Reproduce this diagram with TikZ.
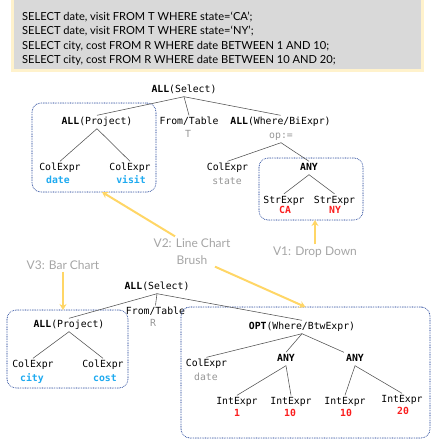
\documentclass[tikz,border=0pt]{standalone}
\usepackage{fontspec}
\setmainfont{Lato}
\setmonofont{DejaVu Sans Mono}
\usetikzlibrary{positioning,calc,arrows,arrows.meta}

\definecolor{valblue}{RGB}{30,170,240}
\definecolor{valred}{RGB}{250,30,30}
\definecolor{dimgray}{RGB}{150,150,150}
\definecolor{viewgray}{RGB}{165,165,165}
\definecolor{boxblue}{RGB}{60,90,165}
\definecolor{hintyellow}{RGB}{255,214,102}
\definecolor{sqlgray}{RGB}{217,217,217}
\definecolor{sqlyellow}{RGB}{255,242,204}
\definecolor{edgegray}{RGB}{80,80,80}

\newcommand{\kw}[1]{\textbf{#1}}
\tikzset{font=\ttfamily\fontsize{9.8}{12}\selectfont}
\tikzset{
	grp/.style={draw=boxblue, line width=1.1pt, line cap=round, dash pattern=on 0pt off 1.7pt, rounded corners=9pt, inner sep=0pt, outer sep=0pt},
	edge/.style={draw=edgegray, line width=0.55pt},
	hint/.style={draw=hintyellow, line width=2pt, -{Stealth[length=6pt, width=7pt]}},
	query/.style={font=\rmfamily\fontsize{11.1}{12}\selectfont, anchor=base west, inner sep=0pt},
	view/.style={font=\rmfamily\fontsize{12}{17}\selectfont, text=viewgray, align=center, inner sep=2pt}
}

\begin{document}
\begin{tikzpicture}[x=1pt, y=-1pt]
	\useasboundingbox (0,0) rectangle (432,440);

	% queries
	\draw [line width=3pt, draw=sqlyellow, fill=sqlgray] (12.5,-5) rectangle (422.5,70.5);
	\node[query] (q1) at (22,20) {SELECT date, visit FROM T WHERE state=`CA';};
	\node[query] (q2) at (22,34.5) {SELECT date, visit FROM T WHERE state=`NY';};
	\node[query] (q3) at (22,49) {SELECT city, cost FROM R WHERE date BETWEEN 1 AND 10;};
	\node[query] (q4) at (22,63.5) {SELECT city, cost FROM R WHERE date BETWEEN 10 AND 20;};

	\begin{scope}
		\tikzstyle{every node}=[align=center, inner sep=2pt, text height=7pt, text depth=2pt]
		\tikzstyle{colval}=[font=\ttfamily\bfseries\fontsize{9.8}{12}\selectfont, text=valblue]
		\tikzstyle{numval}=[font=\ttfamily\bfseries\fontsize{9.8}{12}\selectfont, text=valred]
		\tikzstyle{dim}=[text=dimgray]

		% first tree
		\node (sel1) at (184,90) {\kw{ALL}(Select)};
		\node (proj1) at (97,122) {\kw{ALL}(Project)};
		\node (from1) at (189,122) {From/Table};
		\node[dim] (tbl1) at (188,135) {T};
		\node (where1) at (280.5,122) {\kw{ALL}(Where/BiExpr)};
		\node[dim] (op1) at (281,136) {op:=};

		\node (cdate) at (60,168) {ColExpr};
		\node[colval] (vdate) at (58,181) {date};
		\node (cvisit) at (130,168) {ColExpr};
		\node[colval] (vvisit) at (131,181) {visit};
		\node (cstate) at (227.5,168) {ColExpr};
		\node[dim] (vstate) at (227,182) {state};

		\node (any1) at (309,168) {\kw{ANY}};
		\node (sca) at (284,200.5) {StrExpr};
		\node[numval] (vca) at (285,211) {CA};
		\node (sny) at (334.5,200.5) {StrExpr};
		\node[numval] (vny) at (335,211) {NY};

		\node[grp, minimum width=124pt, minimum height=89pt] (projbox1) at (94,147.5) {};
		\node[grp, minimum width=104pt, minimum height=62pt] (anybox) at (311,189) {};

		\draw [edge] (sel1.south) to (proj1.north);
		\draw [edge] (sel1.south) to (from1.north);
		\draw [edge] (sel1.south) to (where1.north);
		\draw [edge] (proj1.south) to (cdate.north);
		\draw [edge] (proj1.south) to (cvisit.north);
		\draw [edge] (op1.south) to (cstate.north);
		\draw [edge] (op1.south) to (any1.north);
		\draw [edge] (any1.south) to (sca.north);
		\draw [edge] (any1.south) to (sny.north);

		% second tree
		\node (sel2) at (157,287) {\kw{ALL}(Select)};
		\node (from2) at (155.5,312) {From/Table};
		\node[dim] (tbl2) at (153,324) {R};
		\node (proj2) at (69,325) {\kw{ALL}(Project)};
		\node (ccity) at (33,365) {ColExpr};
		\node[colval] (vcity) at (32,379) {city};
		\node (ccost) at (103,365) {ColExpr};
		\node[colval] (vcost) at (105,379) {cost};

		\node (opt2) at (302,327) {\kw{OPT}(Where/BtwExpr)};
		\node (cdate2) at (206.5,364) {ColExpr};
		\node[dim] (vdate2) at (206,378) {date};
		\node (anya) at (286,359) {\kw{ANY}};
		\node (anyb) at (355,359) {\kw{ANY}};
		\node (int1) at (237,402) {IntExpr};
		\node[numval] (vint1) at (237,414) {1};
		\node (int2) at (291,402) {IntExpr};
		\node[numval] (vint2) at (290,414) {10};
		\node (int3) at (345,402) {IntExpr};
		\node[numval] (vint3) at (346,414) {10};
		\node (int4) at (402,400) {IntExpr};
		\node[numval] (vint4) at (403,412) {20};

		\node[grp, minimum width=121pt, minimum height=78pt] (bprojbox) at (67.5,349) {};
		\node[grp, minimum width=249pt, minimum height=131pt] (optbox) at (305.5,372.5) {};

		\draw [edge] (sel2.south) to (proj2.north);
		\draw [edge] (sel2.south) to (from2.north);
		\draw [edge] (sel2.south) to (opt2.north);
		\draw [edge] (proj2.south) to (ccity.north);
		\draw [edge] (proj2.south) to (ccost.north);
		\draw [edge] (opt2.south) to (cdate2.north);
		\draw [edge] (opt2.south) to (anya.north);
		\draw [edge] (opt2.south) to (anyb.north west);
		\draw [edge] (anya.south) to (int1.north);
		\draw [edge] (anya.south) to (int2.north);
		\draw [edge] (anyb.south) to (int3.north);
		\draw [edge] (anyb.south) to (int4.north);
	\end{scope}

	% views
	\node[view] (v1) at (315,252) {V1: Drop Down};
	\node[view] (v2) at (192,251.5) {V2: Line Chart\\Brush};
	\node[view] (v3) at (63,265) {V3: Bar Chart};

	\draw [hint] (v1.north) to (v1.north |- anybox.south);
	\draw [hint] ([xshift=-17pt]v2.north) to ([xshift=8pt]projbox1.south);
	\draw [hint] ([xshift=23pt]v2.south) to (optbox.north);
	\draw [hint] (v3.south) to (v3.south |- bprojbox.north);
\end{tikzpicture}
\end{document}
